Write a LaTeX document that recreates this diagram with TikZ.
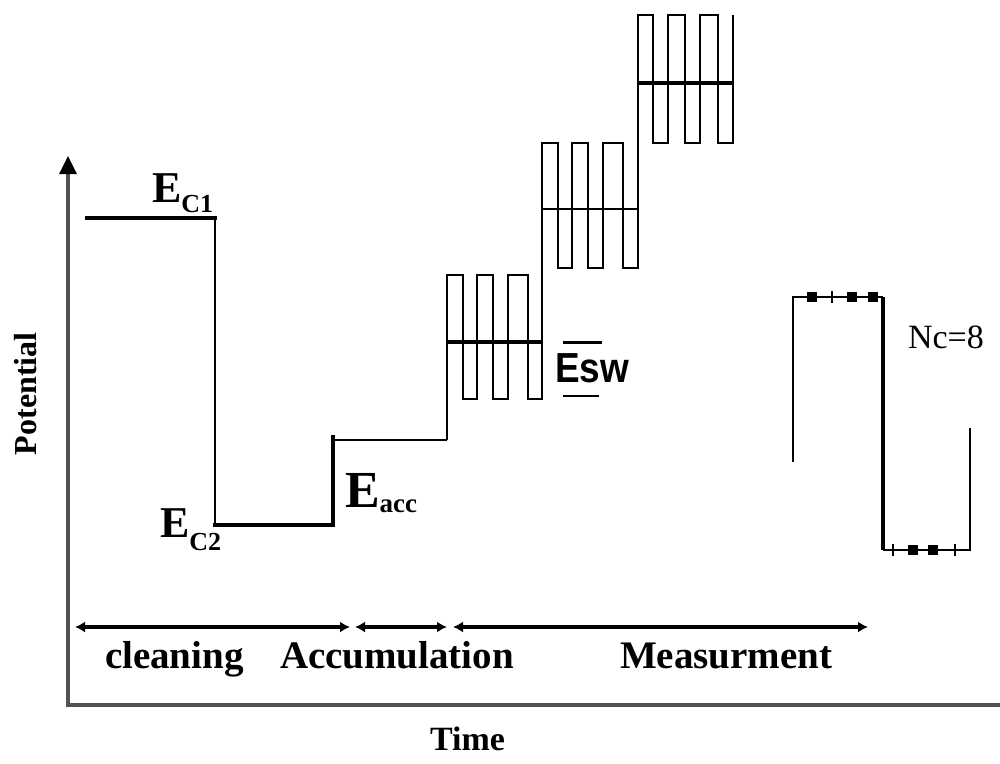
\documentclass[tikz,border=0pt]{standalone}
\usepackage{fontspec}
\setmainfont{Liberation Serif}
\newfontfamily\sansf{Liberation Sans}
\usetikzlibrary{arrows.meta}
\begin{document}
\begin{tikzpicture}[x=1pt,y=-1pt,
  lbl/.style={inner sep=0pt,outer sep=0pt,anchor=base west},
  axisline/.style={draw=black!68,line width=4.5pt},
  wthick/.style={line width=3.8pt,line cap=rect},
  wmid/.style={line width=2.8pt,line join=miter},
  wthin/.style={line width=2pt},
  spanarrow/.style={line width=3.5pt,{Latex[length=10pt,width=11pt]}-{Latex[length=10pt,width=11pt]}},
  mk/.style={line width=2.6pt}]
\useasboundingbox (0,0) rectangle (1000,763);
% axes
\coordinate (o) at (68,705);
\coordinate (ytop) at (68,156);
\coordinate (xend) at (1000,705);
\draw[axisline] (o) -- (68,170);
\fill[black] (ytop) -- (59,174) -- (77,174) -- cycle;
\draw[axisline] (66,705) -- (xend);
% cleaning / accumulation steps
\draw[wthick] (87,218) -- (215,218);
\draw[line width=2.4pt] (215,218) -- (215,525);
\draw[wthick] (215,525) -- (333,525);
\draw[line width=3.4pt] (333,525) -- (333,435);
\draw[wthin] (333,440) -- (447,440);
% square wave
\draw[wmid] (447,440) -- (447,275) -- (463,275) -- (463,399) -- (477,399) -- (477,275)
  -- (493,275) -- (493,399) -- (508,399) -- (508,275) -- (528,275) -- (528,399)
  -- (542,399) -- (542,143) -- (558,143) -- (558,268) -- (572,268) -- (572,143)
  -- (588,143) -- (588,268) -- (603,268) -- (603,143) -- (623,143) -- (623,268)
  -- (638,268) -- (638,15) -- (653,15) -- (653,143) -- (668,143) -- (668,15)
  -- (685,15) -- (685,143) -- (700,143) -- (700,15) -- (718,15) -- (718,143)
  -- (733,143) -- (733,15);
\draw[line width=3.4pt] (447,342) -- (542,342);
\draw[wthin] (542,209) -- (638,209);
\draw[line width=3.4pt] (638,83) -- (733,83);
% Esw bars
\draw[line width=3pt] (563,342) -- (602,342);
\draw[line width=2.2pt] (563,396) -- (599,396);
% right detail
\draw[wthin] (793,462) -- (793,297) -- (883,297);
\draw[line width=4pt] (883,297) -- (883,550);
\draw[wthin] (883,550) -- (970,550) -- (970,428);
\foreach \x in {812,852,873}{\fill (\x-5,297-5) rectangle (\x+5,297+5);}
\foreach \x in {832}{\draw[mk] (\x-6,297) -- (\x+6,297) (\x,291) -- (\x,303);}
\foreach \x in {913,933}{\fill (\x-5,550-5) rectangle (\x+5,550+5);}
\foreach \x in {893,955}{\draw[mk] (\x-6,550) -- (\x+6,550) (\x,544) -- (\x,556);}
% span arrows
\coordinate (a0) at (75,627);
\coordinate (a1) at (350,627);
\coordinate (a2) at (355,627);
\coordinate (a3) at (447,627);
\coordinate (a4) at (453,627);
\coordinate (a5) at (868,627);
\draw[spanarrow] (a0) -- (a1);
\draw[spanarrow] (a2) -- (a3);
\draw[spanarrow] (a4) -- (a5);
% labels
\node[lbl] (ec1) at (152,202) {\bfseries\fontsize{44}{44}\selectfont E\raisebox{-10pt}{\fontsize{26}{26}\selectfont C1}};
\node[lbl] (ec2) at (160,537) {\bfseries\fontsize{44}{44}\selectfont E\raisebox{-13pt}{\fontsize{26}{26}\selectfont C2}};
\node[lbl] (eacc) at (345,507) {\bfseries\fontsize{52}{52}\selectfont E\raisebox{-5pt}{\fontsize{27}{27}\selectfont acc}};
\node[lbl] (esw) at (555,382) {\scalebox{0.88}[1]{\sansf\bfseries\fontsize{42}{42}\selectfont Esw}};
\node[lbl] (nc) at (908,348) {\fontsize{34}{34}\selectfont Nc=8};
\node[lbl] (clean) at (105,668) {\bfseries\fontsize{39}{39}\selectfont cleaning};
\node[lbl] (accu) at (280,668) {\bfseries\fontsize{39}{39}\selectfont Accumulation};
\node[lbl] (meas) at (620,668) {\bfseries\fontsize{39}{39}\selectfont Measurment};
\node[lbl] (time) at (430,750) {\bfseries\fontsize{34}{34}\selectfont Time};
\node[lbl,rotate=90] (pot) at (36,455) {\bfseries\fontsize{32}{32}\selectfont Potential};
\end{tikzpicture}
\end{document}
